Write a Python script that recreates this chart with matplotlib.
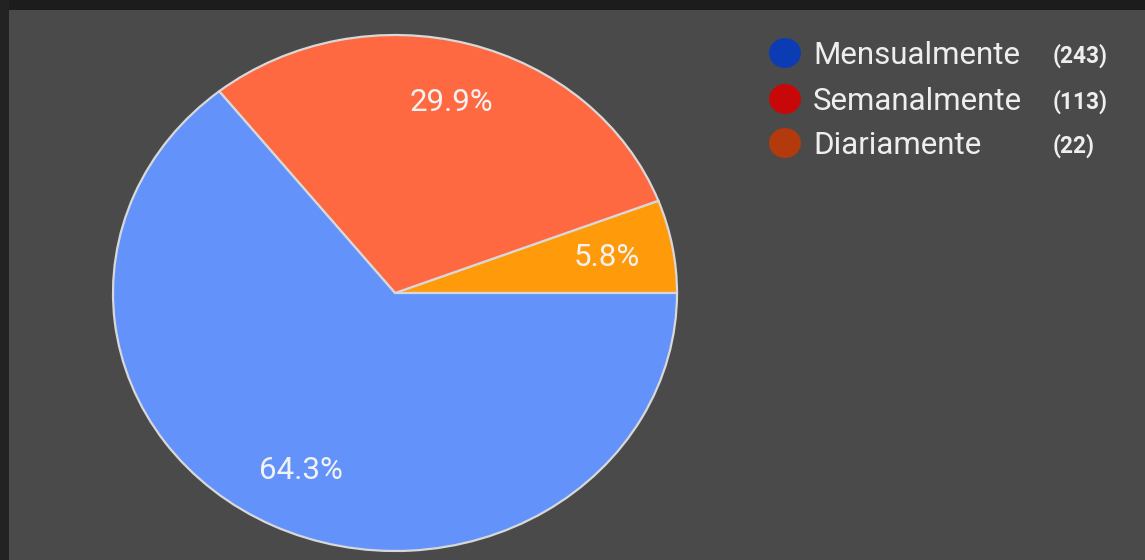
import matplotlib
matplotlib.use("Agg")
import matplotlib.pyplot as plt
from matplotlib.patches import Ellipse, Rectangle

# Survey answers: how often
categories = ["Mensualmente", "Semanalmente", "Diariamente"]
counts = [243, 113, 22]
slice_colors = ["#6393fa", "#ff6941", "#ff9a0a"]
legend_colors = ["#0c3cb4", "#c80808", "#b23a0c"]

W, H = 1145, 560
fig = plt.figure(figsize=(W / 100, H / 100), dpi=100)
fig.patch.set_facecolor("#4a4a4a")

# dark frame bands (top and left)
fig.patches.append(Rectangle((0, 1 - 10 / H), 1, 10 / H, transform=fig.transFigure,
                             facecolor="#1c1c1c", edgecolor="none", zorder=0))
fig.patches.append(Rectangle((0, 0), 9 / W, 1, transform=fig.transFigure,
                             facecolor="#222222", edgecolor="none", zorder=0))

# pie axes: slightly wider than tall, partly cut at the bottom
cx, cy = 395, H - 293
rx, ry = 282, 258
ax = fig.add_axes([(cx - rx) / W, (cy - ry) / H, 2 * rx / W, 2 * ry / H])
ax.set_facecolor("none")

# draw slices counter-clockwise from 3 o'clock: smallest first
order = [2, 1, 0]
vals = [counts[i] for i in order]
cols = [slice_colors[i] for i in order]
wedges, texts, autotexts = ax.pie(
    vals, colors=cols, startangle=0, counterclock=True,
    autopct="%.1f%%", pctdistance=0.765, radius=1.0,
    wedgeprops=dict(edgecolor="#d8d8d8", linewidth=1.6),
    textprops=dict(color="#f2f2f2", fontsize=22.5, family=["Roboto", "DejaVu Sans"]),
)
for t in autotexts:
    t.set_ha("center")
    t.set_va("center")
ax.set_aspect("auto")
ax.set_xlim(-1, 1)
ax.set_ylim(-1, 1)
ax.axis("off")

# legend
rows_y = [53, 99, 143]
for name, n, c, yy in zip(categories, counts, legend_colors, rows_y):
    yf = 1 - yy / H
    fig.patches.append(Ellipse((785 / W, yf), 32 / W, 30 / H, transform=fig.transFigure,
                               facecolor=c, edgecolor="none", zorder=3))
    fig.text(813 / W, yf, name, color="#eeeeee", fontsize=22.5,
             family=["Roboto", "DejaVu Sans"], ha="left", va="center_baseline")
    fig.text(1053 / W, yf, f"({n})", color="#eeeeee", fontsize=16.3, fontweight="bold",
             family=["Roboto", "DejaVu Sans"], ha="left", va="center_baseline")

fig.savefig("out.png", dpi=100, facecolor=fig.get_facecolor())
